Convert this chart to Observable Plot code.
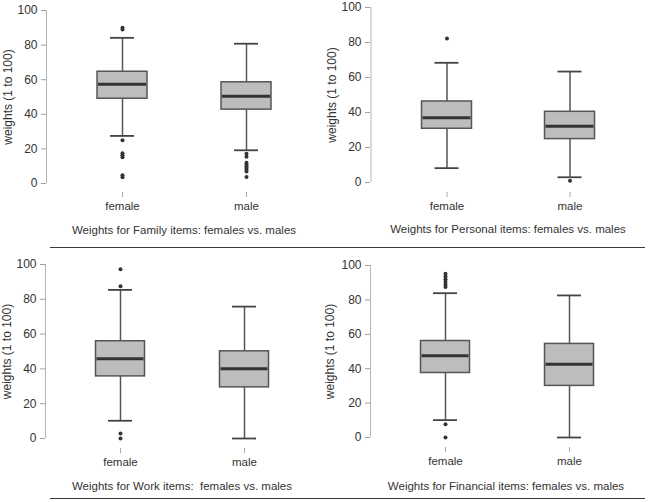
<!DOCTYPE html>
<html><head><meta charset="utf-8">
<script src="https://cdn.jsdelivr.net/npm/d3@7"></script>
<script src="https://cdn.jsdelivr.net/npm/@observablehq/plot@0.6"></script>
<style>
body{margin:0;background:#fff;}
#root{position:relative;width:649px;height:502px;overflow:hidden;font-family:"Liberation Sans",Arial,sans-serif;color:#333;background:#fff;}
.panel{position:absolute;}
.title{position:absolute;font-size:11.5px;white-space:pre;transform:translate(-50%,-50%);color:#333;}
.sep{position:absolute;height:1px;background:#3a3a3a;}
</style></head><body><div id="root"></div>
<script>
const categories = ["female", "male"];
const yTicks = [0, 20, 40, 60, 80, 100];
const yLabel = "weights (1 to 100)";
const titles = [
  "Weights for Family items: females vs. males",
  "Weights for Personal items: females vs. males",
  "Weights for Work items:  females vs. males",
  "Weights for Financial items: females vs. males"
];

// Family items
const familyLow = [27.5, 19.2];
const familyQ1 = [49.0, 42.7];
const familyMed = [57.3, 50.4];
const familyQ3 = [64.6, 58.5];
const familyHigh = [84.2, 80.8];
const familyOutFemale = [90, 89, 25, 17.5, 16.3, 15.2, 4.8, 3.6];
const familyOutMale = [17.2, 15.4, 12, 11, 10, 9, 8, 7, 3.8];

// Personal items
const personalLow = [8.2, 3.0];
const personalQ1 = [30.7, 24.8];
const personalMed = [37.0, 32.2];
const personalQ3 = [46.3, 40.4];
const personalHigh = [68.4, 63.4];
const personalOutFemale = [82.3];
const personalOutMale = [1];

// Work items
const workLow = [10.2, 0];
const workQ1 = [35.7, 29.4];
const workMed = [45.9, 40.1];
const workQ3 = [55.9, 50.1];
const workHigh = [85.4, 75.8];
const workOutFemale = [97.3, 87.5, 2.9, 0];
const workOutMale = [];

// Financial items
const financialLow = [10.1, 0];
const financialQ1 = [37.5, 30.0];
const financialMed = [47.6, 42.6];
const financialQ3 = [56.1, 54.4];
const financialHigh = [83.9, 82.6];
const financialOutFemale = [95.2, 93.6, 92, 90.5, 89, 87.5, 7.7, 0];
const financialOutMale = [];

const stats = [
  {low: familyLow, q1: familyQ1, med: familyMed, q3: familyQ3, high: familyHigh, outF: familyOutFemale, outM: familyOutMale},
  {low: personalLow, q1: personalQ1, med: personalMed, q3: personalQ3, high: personalHigh, outF: personalOutFemale, outM: personalOutMale},
  {low: workLow, q1: workQ1, med: workMed, q3: workQ3, high: workHigh, outF: workOutFemale, outM: workOutMale},
  {low: financialLow, q1: financialQ1, med: financialMed, q3: financialQ3, high: financialHigh, outF: financialOutFemale, outM: financialOutMale}
];

// layout (pixels, local to each panel)
const layout = [
  {left: 0,   top: 0,   w: 330, h: 222, L: 46, c0: 122, c1: 246, y100: 10, y0: 183, xTick: 192, lx: 8,  box: 50, titleX: 184, titleY: 230},
  {left: 320, top: 0,   w: 329, h: 222, L: 50, c0: 126, c1: 249, y100: 7,  y0: 182, xTick: 192, lx: 12, box: 50, titleX: 508, titleY: 229},
  {left: 0,   top: 250, w: 320, h: 222, L: 45, c0: 120, c1: 244, y100: 14, y0: 188, xTick: 198, lx: 7,  box: 49, titleX: 182, titleY: 486},
  {left: 320, top: 250, w: 329, h: 222, L: 50, c0: 125, c1: 249, y100: 15, y0: 187, xTick: 197, lx: 10, box: 49, titleX: 506, titleY: 486}
];

const root = document.getElementById("root");
const font = '"Liberation Sans", Arial, sans-serif';

function drawPanel(cfg, s) {
  const rows = categories.map((g, i) => ({g, low: s.low[i], q1: s.q1[i], med: s.med[i], q3: s.q3[i], high: s.high[i]}));
  const outs = [...s.outF.map(v => ({g: categories[0], v})), ...s.outM.map(v => ({g: categories[1], v}))];
  const step = cfg.c1 - cfg.c0;
  const po = (cfg.c0 - cfg.L) / step - 0.5;
  const end = cfg.L + step * (2 + 2 * po);
  const boxInset = (step - cfg.box) / 2;
  const capInset = (step - 24) / 2;
  return Plot.plot({
    width: cfg.w, height: cfg.h,
    marginLeft: cfg.L, marginRight: cfg.w - end,
    marginTop: cfg.y100, marginBottom: cfg.h - cfg.xTick,
    style: {background: "transparent", fontFamily: font, color: "#333", overflow: "visible"},
    x: {domain: categories, paddingInner: 0, paddingOuter: po, align: 0.5},
    y: {domain: [0, 100], insetBottom: cfg.xTick - cfg.y0},
    marks: [
      Plot.ruleX([categories[0]], {y1: 0, y2: 100, dx: cfg.L - cfg.c0, stroke: "#b5b5b5", strokeWidth: 1}),
      Plot.axisY({ticks: yTicks, tickSize: 5, tickPadding: 4, stroke: "#a0a0a0", fill: "#333", fontSize: 12, label: null}),
      Plot.axisX({tickSize: 5, tickPadding: 4, stroke: "#a8a8a8", fill: "#333", fontSize: 11.5, label: null}),
      Plot.text([yLabel], {y: [d3.mean(d3.extent(yTicks))], frameAnchor: "left", textAnchor: "middle", dx: cfg.lx - cfg.L, rotate: -90, fontSize: 12, fill: "#333"}),
      Plot.ruleX(rows, {x: "g", y1: "low", y2: "high", stroke: "#555", strokeWidth: 1.5}),
      Plot.barY(rows, {x: "g", y1: "q1", y2: "q3", fill: "#bdbdbd", stroke: "#555", strokeWidth: 1.5, insetLeft: boxInset, insetRight: boxInset}),
      Plot.tickY(rows, {x: "g", y: "med", stroke: "#333", strokeWidth: 3, insetLeft: boxInset + 1, insetRight: boxInset + 1}),
      Plot.tickY(rows, {x: "g", y: "low", stroke: "#444", strokeWidth: 1.8, insetLeft: capInset, insetRight: capInset}),
      Plot.tickY(rows, {x: "g", y: "high", stroke: "#444", strokeWidth: 1.8, insetLeft: capInset, insetRight: capInset}),
      Plot.dot(outs, {x: "g", y: "v", r: 2, fill: "#333", stroke: "none"})
    ]
  });
}

layout.forEach((cfg, i) => {
  const div = document.createElement("div");
  div.className = "panel";
  div.style.left = cfg.left + "px";
  div.style.top = cfg.top + "px";
  div.appendChild(drawPanel(cfg, stats[i]));
  root.appendChild(div);
  const t = document.createElement("div");
  t.className = "title";
  t.style.left = cfg.titleX + "px";
  t.style.top = cfg.titleY + "px";
  t.textContent = titles[i];
  root.appendChild(t);
});

[{x: 50, y: 247, w: 595}, {x: 50, y: 498, w: 595}].forEach(l => {
  const d = document.createElement("div");
  d.className = "sep";
  d.style.left = l.x + "px";
  d.style.top = l.y + "px";
  d.style.width = l.w + "px";
  root.appendChild(d);
});
</script>
</body></html>
